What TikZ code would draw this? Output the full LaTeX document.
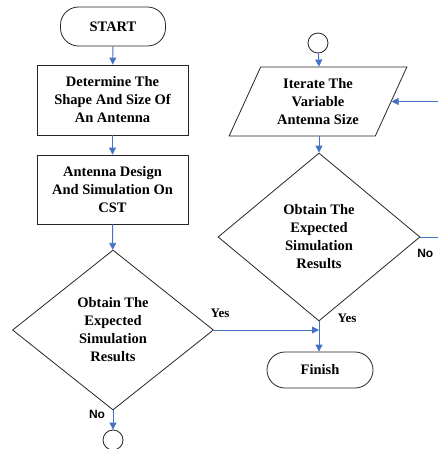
\documentclass[tikz,border=0pt]{standalone}
\usepackage{fontspec}
\setmainfont{Liberation Serif}
\newfontfamily\labelsans{Liberation Sans}
\usetikzlibrary{shapes.geometric,arrows.meta}
\definecolor{flowblue}{RGB}{68,114,196}
\begin{document}
\begin{tikzpicture}[x=1pt, y=-1pt, line width=0.8pt,
  box/.style={rectangle,draw=black!85,align=center,inner sep=2pt,font=\fontsize{14.5}{18}\selectfont\bfseries},
  terminal/.style={box,rounded corners=18pt},
  decision/.style={box,diamond,inner sep=0pt},
  io node/.style={box,trapezium,trapezium left angle=64,trapezium right angle=116,trapezium stretches=true,inner sep=0pt},
  connector/.style={circle,draw=black!85,minimum size=20pt,inner sep=0pt},
  flow/.style={draw=flowblue,line width=0.9pt,-{Triangle[width=7pt,length=7pt]}},
  answer/.style={font=\fontsize{13}{15}\selectfont\bfseries},
  answersans/.style={font=\labelsans\fontsize{12}{14}\selectfont\bfseries}]
\useasboundingbox (0,0) rectangle (438,449);
\clip (0,0) rectangle (438,449);
\begin{scope}
\node[terminal,minimum width=105pt,minimum height=39pt] (start) at (113,26.5) {START};
\node[box,minimum width=151pt,minimum height=70pt] (shape) at (112.5,100) {Determine The\\Shape And Size Of\\An Antenna};
\node[box,minimum width=151pt,minimum height=69pt] (design) at (112.5,189.5) {Antenna Design\\And Simulation On\\CST};
\node[decision,minimum width=201pt,minimum height=160pt] (check1) at (113,330) {Obtain The\\Expected\\Simulation\\Results};
\node[connector] (out) at (113,440) {};
%
\node[connector] (in) at (318,43) {};
\node[io node,minimum width=178pt,minimum height=69pt] (iterate) at (318,101.5) {Iterate The\\Variable\\Antenna Size};
\node[decision,minimum width=202pt,minimum height=168pt] (check2) at (319,237) {Obtain The\\Expected\\Simulation\\Results};
\node[terminal,minimum width=106pt,minimum height=36pt] (finish) at (320,370) {Finish};
\end{scope}
\begin{scope}
\draw[flow] (start) -- (shape);
\draw[flow] (shape) -- (design);
\draw[flow] (design) -- (check1);
\draw[flow] (check1.south) -- (out);
\draw[flow] (in) -- (check2.north |- iterate.north);
\draw[flow] (check2.north |- iterate.south) -- (check2);
\draw[flow] (check2.south) -- (finish.north -| check2.south);
\draw[flow] (check1.east) -- (check1.east -| check2.south);
\draw[flow] (check2.east) -- ++(30,0) |- (iterate.east);
\end{scope}
\node[answersans] (no1) at (97,414) {No};
\node[answer] (yes1) at (220,313) {Yes};
\node[answer] (yes2) at (347,318) {Yes};
\node[answersans,anchor=east] (no2) at (437,253) {No};
\end{tikzpicture}
\end{document}
